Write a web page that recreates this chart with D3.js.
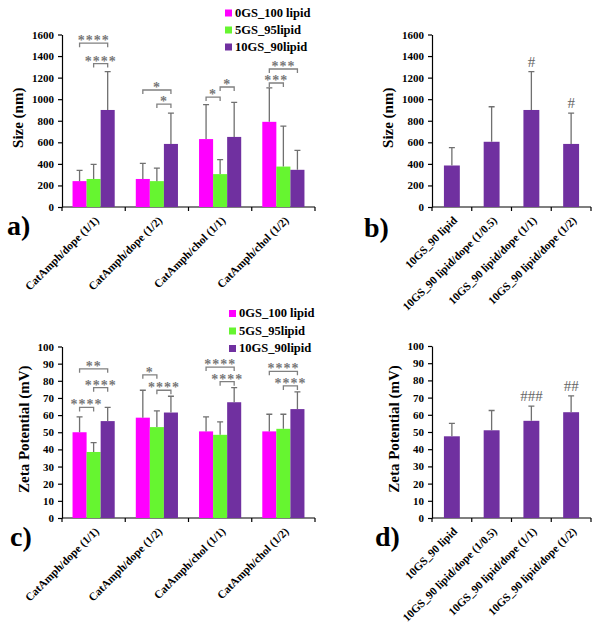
<!DOCTYPE html>
<html>
<head>
<meta charset="utf-8">
<script src="https://cdn.jsdelivr.net/npm/d3@7"></script>
<style>
  body { margin: 0; background: #fff; }
  svg { font-family: 'Liberation Serif', 'Times New Roman', serif; font-weight: bold; }
  .axis path, .axis line { stroke: #000; stroke-width: 1.2; }
  .axis text { font-size: 11px; font-weight: bold; fill: #000; font-family: 'Liberation Serif', 'Times New Roman', serif; }
  .err { stroke: #707070; stroke-width: 1.3; fill: none; }
  .bracket { stroke: #808080; stroke-width: 1.3; fill: none; }
  .stars { font-size: 14px; fill: #777; letter-spacing: 1px; font-weight: bold; }
  .hash { font-size: 15px; fill: #666; font-weight: normal; }
  .cat-label { font-size: 11.3px; }
  .y-label { font-size: 15px; }
  .panel-label { font-size: 28px; }
  .legend text { font-size: 12.5px; }
</style>
</head>
<body>
<svg width="602" height="631"></svg>
<script>
(function (d3) {
  'use strict';

  // grouped panels (a, c)
  const groupNames = ['CatAmph/dope (1/1)', 'CatAmph/dope (1/2)', 'CatAmph/chol (1/1)', 'CatAmph/chol (1/2)'];
  const seriesNames = ['0GS_100 lipid', '5GS_95lipid', '10GS_90lipid'];
  const seriesColors = ['#ff00ff', '#66f530', '#7030a0'];

  const sizeMeans = [[240, 260, 900], [260, 240, 585], [630, 305, 650], [790, 375, 345]];
  const sizeSD = [[100, 135, 355], [145, 120, 285], [320, 135, 320], [315, 375, 180]];
  // [group, from series, to series, bracket level, label]
  const sizeSig = [
    [0, 0, 2, 1520, '****'], [0, 1, 2, 1330, '****'],
    [1, 0, 2, 1085, '*'], [1, 1, 2, 955, '*'],
    [2, 0, 1, 1020, '*'], [2, 1, 2, 1113, '*'],
    [3, 0, 2, 1280, '***'], [3, 0, 1, 1150, '***']
  ];
  const sizeTicks = [0, 200, 400, 600, 800, 1000, 1200, 1400, 1600];

  const zetaMeans = [[50, 38.5, 56.5], [58.5, 53, 61.5], [50.5, 48.5, 67.5], [50.5, 52, 63.5]];
  const zetaSD = [[9, 5.5, 8], [16, 9.5, 9.5], [8.5, 7.5, 8.5], [10, 8.5, 10]];
  const zetaSig = [
    [0, 0, 1, 64.5, '****'], [0, 1, 2, 76, '****'], [0, 0, 2, 87, '**'],
    [1, 0, 1, 83.5, '*'], [1, 1, 2, 74.5, '****'],
    [2, 0, 2, 88, '****'], [2, 1, 2, 79.5, '****'],
    [3, 0, 2, 85.5, '****'], [3, 1, 2, 77, '****']
  ];
  const zetaTicks = [0, 10, 20, 30, 40, 50, 60, 70, 80, 90, 100];

  // single-series panels (b, d)
  const dopeNames = ['10GS_90 lipid', '10GS_90 lipid/dope (1/0.5)', '10GS_90 lipid/dope (1/1)', '10GS_90 lipid/dope (1/2)'];
  const dopeSize = [385, 605, 900, 585];
  const dopeSizeSD = [165, 325, 355, 285];
  const dopeSizeMarks = ['', '', '#', '#'];
  const dopeZeta = [47.5, 51, 56.5, 61.5];
  const dopeZetaSD = [7.5, 11.5, 8.5, 9.5];
  const dopeZetaMarks = ['', '', '###', '##'];

  const svg = d3.select('svg');

  const barPanel = (selection, props) => {
    const {
      categories, series, colors, means, sds, sig, marks,
      ticks, width, height, padInner, padOuter, yLabel, yLabelX
    } = props;

    const x = d3.scaleBand()
      .domain(d3.range(categories.length))
      .range([0, width])
      .paddingInner(padInner)
      .paddingOuter(padOuter);

    const xs = d3.scaleBand()
      .domain(d3.range(series.length))
      .range([0, x.bandwidth()]);

    const y = d3.scaleLinear()
      .domain([ticks[0], ticks[ticks.length - 1]])
      .range([height, 0]);

    // y axis
    selection.append('g')
      .attr('class', 'axis')
      .call(d3.axisLeft(y)
        .tickValues(ticks)
        .tickFormat(d3.format('d'))
        .tickSize(4).tickSizeOuter(0).tickPadding(4));

    // x axis line + boundary ticks
    const xAxis = selection.append('g').attr('class', 'axis');
    xAxis.append('line')
      .attr('x1', 0).attr('x2', width)
      .attr('y1', height).attr('y2', height);
    const bounds = d3.range(categories.length)
      .map(i => x(i) - x.step() * padInner / 2)
      .concat([width]);
    xAxis.selectAll('line.b').data(bounds)
      .enter().append('line')
        .attr('class', 'b')
        .attr('x1', d => d).attr('x2', d => d)
        .attr('y1', height).attr('y2', height + 4);

    const rows = means.flatMap((g, i) => g.map((v, j) => ({ i, j, v, sd: sds[i][j] })));
    const cx = d => x(d.i) + xs(d.j) + xs.bandwidth() / 2;

    selection.selectAll('rect.bar').data(rows)
      .enter().append('rect')
        .attr('class', 'bar')
        .attr('x', d => x(d.i) + xs(d.j))
        .attr('y', d => y(d.v))
        .attr('width', xs.bandwidth())
        .attr('height', d => height - y(d.v))
        .attr('fill', d => colors[d.j]);

    selection.selectAll('path.err').data(rows)
      .enter().append('path')
        .attr('class', 'err')
        .attr('d', d => `M${cx(d)},${y(d.v)}V${y(d.v + d.sd)}M${cx(d) - 3},${y(d.v + d.sd)}H${cx(d) + 3}`);

    if (sig) {
      const sigG = selection.selectAll('g.sig').data(sig)
        .enter().append('g')
          .attr('class', 'sig');
      const bx = (g, s) => x(g) + xs(s) + xs.bandwidth() / 2;
      sigG.append('path')
        .attr('class', 'bracket')
        .attr('d', d => `M${bx(d[0], d[1])},${y(d[3]) + 4}V${y(d[3])}H${bx(d[0], d[2])}V${y(d[3]) + 4}`);
      sigG.append('text')
        .attr('class', 'stars')
        .attr('text-anchor', 'middle')
        .attr('x', d => (bx(d[0], d[1]) + bx(d[0], d[2])) / 2)
        .attr('y', d => y(d[3]) + 2)
        .text(d => d[4]);
    }

    if (marks) {
      selection.selectAll('text.hash').data(rows.filter(d => marks[d.i]))
        .enter().append('text')
          .attr('class', 'hash')
          .attr('text-anchor', 'middle')
          .attr('x', cx)
          .attr('y', d => y(d.v + d.sd) - 5)
          .text(d => marks[d.i]);
    }

    selection.selectAll('text.cat-label').data(categories)
      .enter().append('text')
        .attr('class', 'cat-label')
        .attr('text-anchor', 'end')
        .attr('transform', (d, i) =>
          `translate(${x(i) + x.bandwidth() / 2 + 6},${height + 14}) rotate(-45)`)
        .text(d => d);

    selection.append('text')
      .attr('class', 'y-label')
      .attr('text-anchor', 'middle')
      .attr('transform', `translate(${yLabelX},${height / 2 - 3}) rotate(-90)`)
      .attr('dy', '0.35em')
      .text(yLabel);
  };

  const legend = (selection, props) => {
    const { names, colors, spacing } = props;
    const rowsG = selection.selectAll('g').data(names)
      .enter().append('g')
        .attr('transform', (d, i) => `translate(0,${i * spacing})`);
    rowsG.append('rect')
      .attr('x', 0).attr('y', -7)
      .attr('width', 7).attr('height', 7)
      .attr('fill', (d, i) => colors[i]);
    rowsG.append('text')
      .attr('x', 10)
      .text(d => d);
  };

  const panelLabel = (x, y, t) =>
    svg.append('text')
      .attr('class', 'panel-label')
      .attr('x', x).attr('y', y)
      .text(t);

  // a) size, grouped
  svg.append('g')
    .attr('transform', 'translate(62,34.5)')
    .call(barPanel, {
      categories: groupNames, series: seriesNames, colors: seriesColors,
      means: sizeMeans, sds: sizeSD, sig: sizeSig,
      ticks: sizeTicks, width: 253, height: 172.5,
      padInner: 1 / 3, padOuter: 1 / 6,
      yLabel: 'Size (nm)', yLabelX: -44
    });

  // b) size, dope ratio
  svg.append('g')
    .attr('transform', 'translate(432,34.5)')
    .call(barPanel, {
      categories: dopeNames, series: ['10GS_90lipid'], colors: [seriesColors[2]],
      means: dopeSize.map(v => [v]), sds: dopeSizeSD.map(v => [v]), marks: dopeSizeMarks,
      ticks: sizeTicks, width: 159, height: 172.5,
      padInner: 0.6, padOuter: 0.3,
      yLabel: 'Size (nm)', yLabelX: -44
    });

  // c) zeta, grouped
  svg.append('g')
    .attr('transform', 'translate(62,346.5)')
    .call(barPanel, {
      categories: groupNames, series: seriesNames, colors: seriesColors,
      means: zetaMeans, sds: zetaSD, sig: zetaSig,
      ticks: zetaTicks, width: 253, height: 171.5,
      padInner: 1 / 3, padOuter: 1 / 6,
      yLabel: 'Zeta Potential (mV)', yLabelX: -38
    });

  // d) zeta, dope ratio
  svg.append('g')
    .attr('transform', 'translate(432,346)')
    .call(barPanel, {
      categories: dopeNames, series: ['10GS_90lipid'], colors: [seriesColors[2]],
      means: dopeZeta.map(v => [v]), sds: dopeZetaSD.map(v => [v]), marks: dopeZetaMarks,
      ticks: zetaTicks, width: 159, height: 172,
      padInner: 0.6, padOuter: 0.3,
      yLabel: 'Zeta Potential (mV)', yLabelX: -38
    });

  svg.append('g')
    .attr('class', 'legend')
    .attr('transform', 'translate(225,16.5)')
    .call(legend, { names: seriesNames, colors: seriesColors, spacing: 17 });

  svg.append('g')
    .attr('class', 'legend')
    .attr('transform', 'translate(229,317)')
    .call(legend, { names: seriesNames, colors: seriesColors, spacing: 17.5 });

  panelLabel(7, 235, 'a)');
  panelLabel(364, 237, 'b)');
  panelLabel(10, 546, 'c)');
  panelLabel(375, 546, 'd)');

}(d3));
</script>
</body>
</html>
